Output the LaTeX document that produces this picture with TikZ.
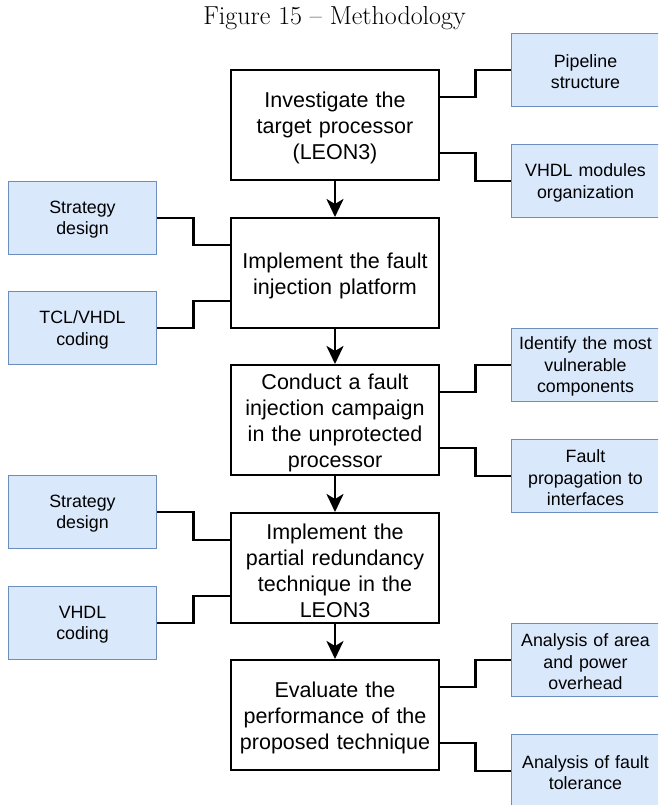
\documentclass[tikz,border=0pt]{standalone}
\usepackage{fontspec}
\newfontfamily\arialf{Liberation Sans}
\usetikzlibrary{calc,arrows.meta}
\definecolor{bluefill}{HTML}{DAE8FC}
\definecolor{blueline}{HTML}{6C8EBF}
\tikzset{
  mainbox/.style={draw=black, line width=2pt, fill=white, minimum width=208pt, minimum height=110pt, inner sep=0pt},
  maintext/.style={text width=204pt, align=center, inner sep=0pt, yshift=-2.5pt, font=\arialf\fontsize{21.5}{26}\selectfont},
  sidebox/.style={draw=blueline, line width=1.6pt, fill=bluefill, minimum width=148pt, minimum height=73pt, inner sep=0pt},
  sidetext/.style={text width=146pt, align=center, inner sep=0pt, yshift=-1.8pt, font=\arialf\fontsize{17.8}{21.5}\selectfont},
  conn/.style={line width=2.6pt, black},
  flow/.style={line width=2.6pt, black, -{Stealth[length=18pt, width=17pt, inset=5pt]}},
}
\begin{document}
\begin{tikzpicture}[x=1pt, y=-1pt]
\useasboundingbox (0,0) rectangle (658,805);
\clip (0,0) rectangle (658,805);
\node[anchor=base, font=\fontsize{26}{30}\selectfont] (title) at (334.5,25) {Figure 15 -- Methodology};

\node[mainbox, label={[maintext]center:{Investigate the\\target processor\\(LEON3)}}] (m1) at (335,125) {};
\node[mainbox, label={[maintext]center:{Implement the fault\\injection platform}}] (m2) at (335,273) {};
\node[mainbox, label={[maintext]center:{Conduct a fault\\injection campaign\\in the unprotected\\processor}}] (m3) at (335,420) {};
\node[mainbox, label={[maintext]center:{Implement the\\partial redundancy\\technique in the\\LEON3}}] (m4) at (335,568) {};
\node[mainbox, label={[maintext]center:{Evaluate the\\performance of the\\proposed technique}}] (m5) at (335,715) {};

\node[sidebox, label={[sidetext]center:{Pipeline\\structure}}] (r1) at (585.5,70) {};
\node[sidebox, label={[sidetext]center:{VHDL modules\\organization}}] (r2) at (585.5,181) {};
\node[sidebox, label={[sidetext]center:{Identify the most\\vulnerable\\components}}] (r3) at (585.5,365) {};
\node[sidebox, label={[sidetext]center:{Fault\\propagation to\\interfaces}}] (r4) at (585.5,476) {};
\node[sidebox, label={[sidetext]center:{Analysis of area\\and power\\overhead}}] (r5) at (585.5,660) {};
\node[sidebox, label={[sidetext]center:{Analysis of fault\\tolerance}}] (r6) at (585.5,771) {};

\node[sidebox, label={[sidetext]center:{Strategy\\design}}] (l1) at (82.5,218) {};
\node[sidebox, label={[sidetext]center:{TCL/VHDL\\coding}}] (l2) at (82.5,328) {};
\node[sidebox, label={[sidetext]center:{Strategy\\design}}] (l3) at (82.5,512) {};
\node[sidebox, label={[sidetext]center:{VHDL\\coding}}] (l4) at (82.5,623) {};

\draw[flow] (m1.south) -- (m2.north);
\draw[flow] (m2.south) -- (m3.north);
\draw[flow] (m3.south) -- (m4.north);
\draw[flow] (m4.south) -- (m5.north);

% right connectors
\foreach \m/\a/\b in {m1/r1/r2, m3/r3/r4, m5/r5/r6}{
  \coordinate (pa) at ($(\m.north east)!0.25!(\m.south east)$);
  \coordinate (pb) at ($(\m.north east)!0.75!(\m.south east)$);
  \draw[conn] (pa) -| ($(pa)!0.5!(\a.west)$) |- (\a.west);
  \draw[conn] (pb) -| ($(pb)!0.5!(\b.west)$) |- (\b.west);
}
% left connectors
\foreach \m/\a/\b in {m2/l1/l2, m4/l3/l4}{
  \coordinate (pa) at ($(\m.north west)!0.25!(\m.south west)$);
  \coordinate (pb) at ($(\m.north west)!0.75!(\m.south west)$);
  \draw[conn] (\a.east) -| ($(pa)!0.5!(\a.east)$) |- (pa);
  \draw[conn] (\b.east) -| ($(pb)!0.5!(\b.east)$) |- (pb);
}
\end{tikzpicture}
\end{document}
